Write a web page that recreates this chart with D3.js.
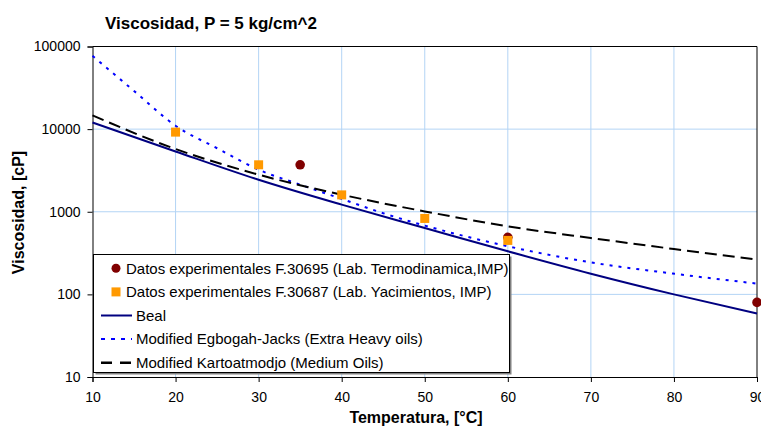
<!DOCTYPE html>
<html>
<head>
<meta charset="utf-8">
<script src="https://cdn.jsdelivr.net/npm/d3@7"></script>
<style>
  body { margin: 0; background: #fff; }
  text { font-family: "Liberation Sans", Arial, sans-serif; fill: #000; }
</style>
</head>
<body>
<svg id="chart" width="761" height="427"></svg>
<script>
// values
let temps = [10, 20, 30, 40, 50, 60, 70, 80, 90];
let bealVisc = [12050, 5370, 2440, 1220, 637, 332, 178, 100, 58.6];
let kartoVisc = [14650, 5740, 2810, 1610, 1010, 666, 481, 354, 263];
let egbogahTemps = [10, 15, 20, 25, 30, 35, 40, 45, 50, 60, 70, 80, 90];
let egbogahVisc = [77000, 29000, 11000, 5870, 3230, 2130, 1430, 960, 680, 382, 244, 178, 135];
let f30695Temps = [35, 60, 90];
let f30695Visc = [3700, 490, 80];
let f30687Temps = [20, 30, 40, 50, 60];
let f30687Visc = [9200, 3700, 1600, 830, 450];
let xTicks = [10, 20, 30, 40, 50, 60, 70, 80, 90];
let yTicks = [10, 100, 1000, 10000, 100000];

let svg = d3.select('#chart');
let x = d3.scaleLinear().domain([10, 90]).range([92.5, 757]);
let y = d3.scaleLog().domain([10, 100000]).range([377, 46.5]);

// grid
svg.append('g')
  .selectAll('line')
  .data(xTicks.slice(1, -1))
  .join('line')
  .attr('x1', d => x(d)).attr('x2', d => x(d))
  .attr('y1', y(100000)).attr('y2', y(10))
  .attr('stroke', '#b3d4f5');
svg.append('g')
  .selectAll('line')
  .data(yTicks.slice(1, -1))
  .join('line')
  .attr('x1', x(10)).attr('x2', x(90))
  .attr('y1', d => y(d)).attr('y2', d => y(d))
  .attr('stroke', '#b3d4f5');

// frame top/right
svg.append('path')
  .attr('d', `M${x(10)},${y(100000)}H${x(90)}V${y(10)}`)
  .attr('fill', 'none').attr('stroke', '#000');

// axes
let xAxis = svg.append('g')
  .attr('transform', `translate(0,${y(10)})`)
  .call(d3.axisBottom(x).tickValues(xTicks).tickSize(5).tickPadding(10).tickFormat(d3.format('d')));
let yAxis = svg.append('g')
  .attr('transform', `translate(${x(10)},0)`)
  .call(d3.axisLeft(y).tickValues(yTicks).tickSize(5).tickPadding(7).tickFormat(d3.format('d')));
[xAxis, yAxis].forEach(a => {
  a.select('.domain').attr('stroke', '#000');
  a.selectAll('.tick line').attr('stroke', '#000');
  a.selectAll('.tick text').attr('font-size', 14).attr('font-family', '"Liberation Sans", Arial, sans-serif').attr('fill', '#000');
});

// lines
let line = d3.line().x(d => x(d[0])).y(d => y(d[1])).curve(d3.curveMonotoneX);
svg.append('path')
  .attr('d', line(d3.zip(temps, bealVisc)))
  .attr('fill', 'none').attr('stroke', '#000080').attr('stroke-width', 2);
svg.append('path')
  .attr('d', line(d3.zip(egbogahTemps, egbogahVisc)))
  .attr('fill', 'none').attr('stroke', '#0000ff').attr('stroke-width', 2)
  .attr('stroke-dasharray', '3 6');
svg.append('path')
  .attr('d', line(d3.zip(temps, kartoVisc)))
  .attr('fill', 'none').attr('stroke', '#000').attr('stroke-width', 2)
  .attr('stroke-dasharray', '12 6');

// points
svg.append('g')
  .selectAll('circle')
  .data(d3.zip(f30695Temps, f30695Visc))
  .join('circle')
  .attr('cx', d => x(d[0])).attr('cy', d => y(d[1])).attr('r', 4.8)
  .attr('fill', '#800000');
svg.append('g')
  .selectAll('rect')
  .data(d3.zip(f30687Temps, f30687Visc))
  .join('rect')
  .attr('x', d => x(d[0]) - 4.5).attr('y', d => y(d[1]) - 4.5)
  .attr('width', 9).attr('height', 9)
  .attr('fill', '#ff9900');

// legend
let lg = svg.append('g');
lg.append('rect').attr('x', 95.5).attr('y', 256.5).attr('width', 416).attr('height', 118).attr('fill', '#808080');
lg.append('rect').attr('x', 93.5).attr('y', 254.5).attr('width', 416).attr('height', 118)
  .attr('fill', '#fff').attr('stroke', '#000');
let entries = [
  { label: 'Datos experimentales F.30695 (Lab. Termodinamica,IMP)', kind: 'circle' },
  { label: 'Datos experimentales F.30687 (Lab. Yacimientos, IMP)', kind: 'square' },
  { label: 'Beal', kind: 'solid' },
  { label: 'Modified Egbogah-Jacks (Extra Heavy oils)', kind: 'dot' },
  { label: 'Modified Kartoatmodjo (Medium Oils)', kind: 'dash' }
];
entries.forEach((e, i) => {
  let cy = 268.3 + i * 23.6;
  let tx = 136;
  if (e.kind === 'circle') {
    lg.append('circle').attr('cx', 116).attr('cy', cy).attr('r', 4.5).attr('fill', '#800000');
    tx = 126;
  } else if (e.kind === 'square') {
    lg.append('rect').attr('x', 111.5).attr('y', cy - 4.5).attr('width', 9).attr('height', 9).attr('fill', '#ff9900');
    tx = 126;
  } else {
    let s = lg.append('line').attr('x1', 101).attr('x2', 132).attr('y1', cy).attr('y2', cy).attr('stroke-width', 2);
    if (e.kind === 'solid') s.attr('stroke', '#000080');
    if (e.kind === 'dot') s.attr('stroke', '#0000ff').attr('stroke-dasharray', '4 6');
    if (e.kind === 'dash') s.attr('stroke', '#000').attr('stroke-width', 2.5).attr('stroke-dasharray', '11 8');
  }
  lg.append('text').attr('x', tx).attr('y', cy + 5.2).attr('font-size', 15).text(e.label);
});

// titles
svg.append('text').attr('x', 105).attr('y', 29)
  .attr('font-size', 17).attr('font-weight', 'bold').text('Viscosidad, P = 5 kg/cm^2');
svg.append('text').attr('x', 416).attr('y', 423).attr('text-anchor', 'middle')
  .attr('font-size', 16).attr('font-weight', 'bold').text('Temperatura, [°C]');
svg.append('text').attr('transform', 'translate(24,212.5) rotate(-90)').attr('text-anchor', 'middle')
  .attr('font-size', 16).attr('font-weight', 'bold').text('Viscosidad, [cP]');
</script>
</body>
</html>
